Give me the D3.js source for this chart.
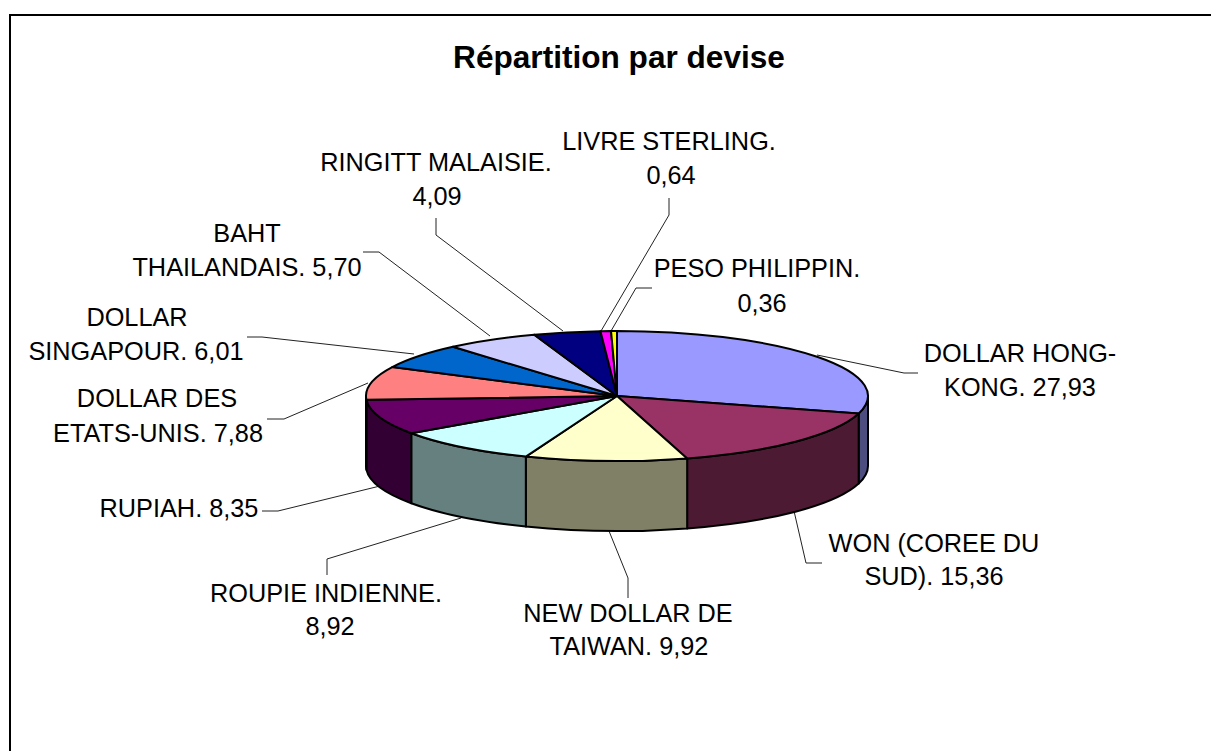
<!DOCTYPE html>
<html>
<head>
<meta charset="utf-8">
<title>Répartition par devise</title>
<script src="https://cdn.jsdelivr.net/npm/d3@7"></script>
<style>
    html, body { margin: 0; padding: 0; background: #fff; overflow: hidden; }
    text { font-family: "Liberation Sans", Arial, sans-serif; fill: #000; }
</style>
</head>
<body>
<svg id="drawing_region"></svg>
<script>
const title = 'Répartition par devise';
const currencies = ['DOLLAR HONG-KONG', 'WON (COREE DU SUD)', 'NEW DOLLAR DE TAIWAN', 'ROUPIE INDIENNE', 'RUPIAH',
    'DOLLAR DES ETATS-UNIS', 'DOLLAR SINGAPOUR', 'BAHT THAILANDAIS', 'RINGITT MALAISIE', 'LIVRE STERLING', 'PESO PHILIPPIN'];
const values = [27.93, 15.36, 9.92, 8.92, 8.35, 7.88, 6.01, 5.70, 4.09, 0.64, 0.36];
const colors = ['#9999FF', '#993366', '#FFFFCC', '#CCFFFF', '#660066', '#FF8080', '#0066CC', '#CCCCFF', '#000080', '#FF00FF', '#FFFF00'];
const labelLines = [
    ['DOLLAR HONG-', 'KONG. 27,93'],
    ['WON (COREE DU', 'SUD). 15,36'],
    ['NEW DOLLAR DE', 'TAIWAN. 9,92'],
    ['ROUPIE INDIENNE.', '8,92'],
    ['RUPIAH. 8,35'],
    ['DOLLAR DES', 'ETATS-UNIS. 7,88'],
    ['DOLLAR', 'SINGAPOUR. 6,01'],
    ['BAHT', 'THAILANDAIS. 5,70'],
    ['RINGITT MALAISIE.', '4,09'],
    ['LIVRE STERLING.', '0,64'],
    ['PESO PHILIPPIN.', '0,36']
];

// label placement, same order as currencies: line centres, baselines and the leader line
const labelX = [[1020, 1020], [934, 934], [628, 629], [326, 330], [179], [157, 158], [137, 136], [247, 247], [436, 437], [669, 671], [757, 762]];
const labelY = [[362, 396], [552, 585], [622, 655], [602, 635], [517], [407, 442], [326, 360], [242, 276], [171, 205], [150, 184], [277, 312]];
const leaders = [
    [[817, 355], [904, 373], [918, 373]],
    [[794, 511], [806, 563], [822, 563]],
    [[609, 531], [628, 578], [628, 598]],
    [[461, 518], [327, 559], [327, 575]],
    [[380, 486], [278, 511], [262, 511]],
    [[368, 383], [284, 419], [267, 419]],
    [[414, 354], [262, 337], [247, 337]],
    [[490, 336], [379, 252], [363, 252]],
    [[563, 331], [436, 235], [436, 218]],
    [[601, 331], [669, 215], [669, 198]],
    [[611, 331], [636, 288], [652, 288]]
];

const width = 1211, height = 751;
const cx = 617, cy = 396, rx = 251, ry = 65, depth = 70;

const svg = d3.select('#drawing_region')
    .attr('width', width)
    .attr('height', height)
    .style('display', 'block');

// outer frame: only the top and left edges fall inside the picture
svg.append('path')
    .attr('d', `M10,${height} V15 H${width}`)
    .attr('fill', 'none')
    .attr('stroke', '#000')
    .attr('stroke-width', 2);

svg.append('text')
    .attr('x', 619)
    .attr('y', 68)
    .attr('text-anchor', 'middle')
    .attr('font-size', 31.6)
    .attr('font-weight', 'bold')
    .text(title);

const xscale = d3.scaleLinear().domain([-1, 1]).range([cx - rx, cx + rx]);
const yscale = d3.scaleLinear().domain([-1, 1]).range([cy - ry, cy + ry]);
const px = a => xscale(Math.sin(a));
const py = a => yscale(-Math.cos(a));

const slices = d3.pie().sort(null).value(d => d.value)(
    values.map((v, i) => ({ value: v, name: currencies[i], color: colors[i] }))
);

// leader lines go under the pie
svg.append('g').selectAll('path')
    .data(leaders)
    .join('path')
    .attr('d', d3.line())
    .attr('fill', 'none')
    .attr('stroke', '#222')
    .attr('stroke-width', 1);

// front wall: only the part between 90 and 270 degrees can be seen
const darker = c => {
    const r = d3.rgb(c);
    return d3.rgb(r.r * 0.5, r.g * 0.5, r.b * 0.5).formatHex();
};
const wallPath = d => {
    const a0 = Math.max(d.startAngle, Math.PI / 2);
    const a1 = Math.min(d.endAngle, Math.PI * 1.5);
    return `M${px(a0)},${py(a0)} A${rx},${ry} 0 0 1 ${px(a1)},${py(a1)}` +
        ` V${py(a1) + depth} A${rx},${ry} 0 0 0 ${px(a0)},${py(a0) + depth} Z`;
};
svg.append('g').selectAll('path')
    .data(slices.filter(d => d.endAngle > Math.PI / 2 && d.startAngle < Math.PI * 1.5))
    .join('path')
    .attr('d', wallPath)
    .attr('fill', d => darker(d.data.color))
    .attr('stroke', '#000')
    .attr('stroke-width', 2)
    .attr('stroke-linejoin', 'round');

// top face
const topPath = d => {
    const large = d.endAngle - d.startAngle > Math.PI ? 1 : 0;
    return `M${cx},${cy} L${px(d.startAngle)},${py(d.startAngle)}` +
        ` A${rx},${ry} 0 ${large} 1 ${px(d.endAngle)},${py(d.endAngle)} Z`;
};
svg.append('g').selectAll('path')
    .data(slices)
    .join('path')
    .attr('d', topPath)
    .attr('fill', d => d.data.color)
    .attr('stroke', '#000')
    .attr('stroke-width', 2)
    .attr('stroke-linejoin', 'round');

const labels = svg.append('g').selectAll('text')
    .data(labelLines)
    .join('text')
    .attr('font-size', 25.3)
    .attr('text-anchor', 'middle');
labels.selectAll('tspan')
    .data((d, i) => d.map((line, j) => ({ line: line, x: labelX[i][j], y: labelY[i][j] })))
    .join('tspan')
    .attr('x', d => d.x)
    .attr('y', d => d.y)
    .text(d => d.line);
</script>
</body>
</html>
